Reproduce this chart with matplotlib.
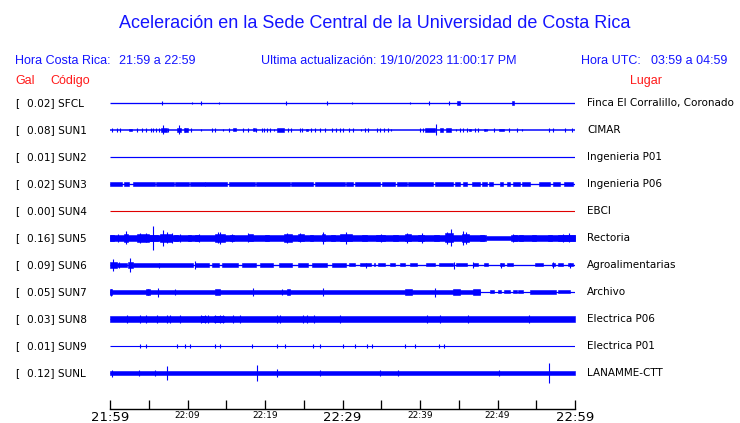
import matplotlib
matplotlib.use('Agg')
import matplotlib.pyplot as plt
from matplotlib.transforms import blended_transform_factory

# stations, top to bottom
codes = ['SFCL', 'SUN1', 'SUN2', 'SUN3', 'SUN4', 'SUN5', 'SUN6', 'SUN7', 'SUN8', 'SUN9', 'SUNL']
places = ['Finca El Corralillo, Coronado', 'CIMAR', 'Ingenieria P01', 'Ingenieria P06', 'EBCI',
          'Rectoria', 'Agroalimentarias', 'Archivo', 'Electrica P06', 'Electrica P01', 'LANAMME-CTT']
gal = [0.02, 0.08, 0.01, 0.02, 0.00, 0.16, 0.09, 0.05, 0.03, 0.01, 0.12]
trace_colors = ['#0000ff', '#0000ff', '#0000ff', '#0000ff', '#e00000', '#0000ff',
                '#0000ff', '#0000ff', '#0000ff', '#0000ff', '#0000ff']

# minutes after 21:59
t_start, t_end = 0, 60
tick_minutes = [0, 10, 20, 30, 40, 50, 60]
tick_labels = ['21:59', '22:09', '22:19', '22:29', '22:39', '22:49', '22:59']
minor_minutes = [5, 15, 25, 35, 45, 55]

# trace amplitude (display units, 27 per trace row)
# base half width, bursts (from, to, half width), spikes (minute, half height)
base = [0.65, 0.75, 0.6, 0.65, 0.55, 0.6, 0.65, 0.6, 0.6, 0.55, 0.6]

sfcl_bursts = [(44.75, 45.1, 1.6), (51.9, 52.15, 1.6)]
sfcl_spikes = [(6.75, 1.6), (10.6, 0.9), (11.8, 1.6), (14.1, 0.9), (22.7, 1.6), (28.0, 1.6),
               (31.2, 0.9), (38.7, 0.9), (41.2, 1.6), (43.7, 1.6)]

sun1_bursts = [(2.5, 2.9, 1.4), (6.6, 7.4, 2.4), (8.6, 9.1, 2.0), (9.6, 10.0, 1.6), (15.9, 16.2, 1.5),
               (18.4, 18.7, 1.5), (21.6, 22.5, 1.6), (25.3, 25.5, 1.4), (40.6, 41.9, 2.0),
               (42.6, 43.0, 1.8), (43.4, 44.0, 2.0), (46.3, 46.6, 1.4), (48.2, 48.5, 1.4),
               (50.2, 50.8, 1.4)]
sun1_spikes = [(0.3, 1.7), (0.86, 1.7), (1.25, 1.7), (3.5, 1.7), (4.1, 1.7), (4.7, 1.7), (5.3, 1.7),
               (5.6, 1.7), (5.9, 1.7), (6.3, 1.7), (6.9, 4.5), (7.5, 1.7), (8.9, 4.5), (9.7, 1.7),
               (10.5, 1.7), (11.7, 1.2), (13.2, 1.7), (13.5, 1.7), (14.6, 1.2), (15.4, 1.7),
               (17.2, 1.7), (17.8, 1.7), (18.9, 1.7), (19.6, 1.7), (19.9, 1.7), (20.3, 1.7),
               (20.7, 1.7), (21.2, 1.2), (23.0, 1.7), (23.4, 1.7), (24.5, 1.7), (24.8, 1.7),
               (25.9, 1.7), (26.4, 1.7), (27.1, 1.7), (27.7, 1.7), (28.7, 1.7), (29.2, 1.7),
               (29.7, 1.7), (30.1, 1.7), (30.9, 1.7), (31.4, 1.7), (32.4, 1.2), (32.9, 1.7),
               (33.3, 1.7), (34.4, 1.7), (34.8, 1.7), (35.4, 1.7), (35.9, 1.7), (36.3, 1.2),
               (40.0, 1.7), (40.4, 1.7), (42.1, 5.5), (44.7, 1.2), (45.1, 1.7), (45.5, 1.7),
               (46.0, 1.7), (47.1, 1.7), (47.5, 1.7), (48.6, 1.2), (49.5, 1.7), (51.5, 1.7),
               (52.5, 1.7), (53.1, 1.2), (56.6, 1.7), (57.2, 1.7), (58.7, 1.7), (59.6, 1.7),
               (59.95, 1.7)]

sun2_bursts = []
sun2_spikes = []

sun3_bursts = [(0.0, 1.5, 1.8), (1.8, 2.4, 1.8), (3.0, 5.8, 1.8), (5.9, 8.2, 1.8), (8.4, 10.2, 1.8),
               (10.3, 12.2, 1.8), (12.3, 15.1, 1.8), (15.3, 18.7, 1.8), (18.9, 23.2, 1.8),
               (23.4, 26.2, 1.8), (26.4, 30.3, 1.8), (30.4, 31.4, 1.8), (31.6, 34.8, 1.8),
               (35.1, 36.8, 1.8), (37.0, 38.3, 1.8), (38.5, 41.7, 1.8), (41.9, 44.3, 1.8),
               (44.5, 45.2, 1.8), (45.6, 46.0, 1.8), (46.7, 47.7, 1.8), (48.0, 48.6, 1.8),
               (48.9, 49.4, 1.8), (50.3, 50.7, 1.8), (51.2, 51.6, 1.8), (52.0, 52.9, 1.8),
               (53.2, 54.2, 1.8), (55.4, 56.8, 1.8), (57.2, 58.1, 1.8), (58.6, 59.8, 1.8)]
sun3_spikes = []

sun4_bursts = []
sun4_spikes = []

sun5_bursts = [(0.0, 48.5, 2.8), (48.5, 52.0, 1.7), (52.0, 60.0, 2.8),
               (0.0, 0.5, 3.2), (1.8, 2.3, 3.6), (3.5, 5.0, 3.6), (5.0, 6.2, 3.3), (6.5, 8.0, 3.9),
               (8.2, 8.8, 3.2), (10.0, 10.5, 3.2), (11.0, 11.5, 3.2), (13.6, 14.8, 4.3),
               (15.5, 16.0, 3.2), (17.8, 18.5, 3.5), (20.0, 20.5, 3.2), (22.5, 23.5, 3.7),
               (24.2, 25.0, 3.5), (25.8, 26.2, 3.2), (27.3, 27.7, 3.5), (28.5, 29.0, 3.2),
               (29.7, 31.2, 3.5), (32.5, 33.2, 3.3), (34.3, 35.5, 3.2), (36.5, 37.2, 3.2),
               (38.0, 38.8, 3.5), (39.8, 40.5, 3.2), (41.8, 42.4, 3.2), (43.2, 44.3, 4.5),
               (45.4, 46.3, 4.0), (47.7, 48.2, 3.2), (51.8, 52.5, 3.2), (52.8, 53.3, 3.2),
               (54.5, 55.0, 3.0), (56.5, 57.0, 3.0), (57.8, 60.0, 3.4)]
sun5_spikes = [(1.0, 3.8), (2.0, 6.5), (3.9, 5.0), (4.6, 4.5), (5.6, 12.0), (6.9, 8.0), (7.4, 5.5),
               (8.0, 5.0), (9.0, 4.0), (11.5, 4.0), (13.9, 5.5), (14.2, 6.0), (15.8, 4.0),
               (17.8, 4.5), (22.9, 5.0), (24.5, 4.5), (27.5, 6.0), (30.5, 6.0), (35.0, 4.0),
               (38.3, 5.0), (40.2, 5.0), (43.5, 6.0), (44.0, 8.5), (45.6, 7.0), (45.9, 6.0),
               (52.0, 4.0), (58.5, 4.0), (59.2, 4.5)]

sun6_bursts = [(0.0, 0.9, 3.0), (0.9, 2.2, 1.8), (2.3, 3.0, 3.0), (3.0, 10.7, 1.7), (11.0, 12.8, 1.6),
               (13.2, 14.0, 1.6), (14.4, 16.5, 1.6), (17.0, 18.8, 1.6), (19.3, 21.0, 1.6),
               (21.8, 23.5, 1.6), (24.2, 25.6, 1.6), (26.0, 28.0, 1.6), (28.6, 30.4, 1.6),
               (30.8, 31.6, 1.5), (32.2, 33.7, 1.5), (34.0, 34.2, 1.5), (34.6, 35.5, 1.5),
               (36.1, 36.8, 1.5), (37.4, 38.1, 1.5), (38.7, 39.6, 1.5), (40.8, 41.9, 1.5),
               (42.4, 44.3, 1.5), (44.7, 46.0, 1.5), (46.9, 47.5, 1.5), (48.2, 48.8, 1.5),
               (50.3, 50.8, 1.5), (51.2, 52.0, 1.5), (54.8, 55.9, 1.5), (57.0, 57.4, 1.5),
               (57.8, 58.5, 1.5), (59.1, 59.8, 1.5)]
sun6_spikes = [(0.4, 6.0), (1.2, 3.0), (2.6, 7.0), (6.3, 2.5), (11.0, 4.0), (33.0, 2.5), (44.4, 3.5),
               (46.9, 3.0), (50.5, 2.5), (57.1, 3.0), (59.3, 2.5)]

sun7_bursts = [(0.0, 47.7, 2.3), (0.0, 0.3, 3.0), (4.6, 5.2, 2.8), (13.5, 14.2, 2.8), (22.8, 23.2, 3.0),
               (38.0, 39.0, 2.6), (44.3, 45.2, 3.0), (46.9, 47.7, 2.6), (49.0, 49.5, 1.5),
               (50.0, 50.5, 1.5), (50.9, 51.6, 1.5), (52.0, 52.5, 1.5), (52.7, 53.3, 1.5),
               (54.2, 57.6, 2.0), (57.8, 59.3, 1.5)]
sun7_spikes = [(0.1, 3.5), (4.9, 3.0), (6.2, 4.5), (8.4, 3.0), (18.5, 4.0), (22.2, 3.0), (27.5, 4.0),
               (41.9, 4.5)]

sun8_bursts = [(0.0, 60.0, 2.7), (11.7, 12.4, 3.2), (13.4, 14.7, 3.0)]
sun8_spikes = [(2.2, 3.8), (3.9, 3.8), (4.7, 3.8), (6.0, 3.8), (7.3, 3.8), (7.7, 3.8), (9.0, 3.8),
               (11.8, 3.8), (12.3, 3.8), (12.7, 3.8), (13.5, 3.8), (14.2, 3.8), (14.6, 3.8),
               (15.9, 3.8), (16.8, 3.8), (21.5, 3.8), (21.9, 3.8), (24.9, 3.8), (25.4, 3.8),
               (26.3, 3.8), (29.7, 3.8), (40.9, 4.0), (42.6, 4.0), (46.2, 4.0), (54.0, 3.8)]

sun9_bursts = []
sun9_spikes = [(3.9, 1.6), (4.7, 1.6), (8.6, 1.6), (9.7, 1.6), (10.3, 1.6), (13.5, 1.6), (14.2, 1.6),
               (18.3, 1.6), (21.5, 1.6), (22.6, 1.6), (26.2, 1.6), (27.1, 1.6), (30.1, 1.6),
               (31.6, 1.6), (33.1, 1.6), (33.8, 1.6), (38.1, 2.0), (39.4, 2.0), (42.4, 1.6),
               (43.1, 1.6)]

sunl_bursts = [(0.0, 60.0, 2.4)]
sunl_spikes = [(0.2, 3.5), (3.7, 2.8), (5.8, 3.2), (7.3, 7.0), (19.0, 8.0), (21.6, 3.8), (27.1, 3.2),
               (34.8, 2.8), (37.2, 2.8), (50.2, 2.8), (56.6, 10.0)]

bursts = [sfcl_bursts, sun1_bursts, sun2_bursts, sun3_bursts, sun4_bursts, sun5_bursts,
          sun6_bursts, sun7_bursts, sun8_bursts, sun9_bursts, sunl_bursts]
spikes = [sfcl_spikes, sun1_spikes, sun2_spikes, sun3_spikes, sun4_spikes, sun5_spikes,
          sun6_spikes, sun7_spikes, sun8_spikes, sun9_spikes, sunl_spikes]

W, H = 740, 423
PT = 72 / 100  # points per pixel
row_gap = 27
blue = '#1414ff'
red = '#ff1a1a'

fig = plt.figure(figsize=(W / 100, H / 100), dpi=100)
fig.patch.set_facecolor('white')


def fx(px):
    return px / W


def fy(py):
    return 1 - py / H


ax = fig.add_axes([fx(110), 14 / H, 465 / W, 319 / H])
ax.set_xlim(t_start, t_end)
ax.set_ylim(306, -13)

for i, code in enumerate(codes):
    y = i * row_gap
    c = trace_colors[i]
    ax.plot([t_start, t_end], [y, y], color=c, lw=2 * base[i] * PT, solid_capstyle='butt')
    for a, b, h in bursts[i]:
        ax.fill_between([a, b], y - h, y + h, color=c, lw=0.4, antialiased=False)
    if spikes[i]:
        ts = [s[0] for s in spikes[i]]
        hs = [s[1] for s in spikes[i]]
        ax.vlines(ts, [y - h for h in hs], [y + h for h in hs], color=c, lw=1.1 * PT)

for s in ['top', 'left', 'right']:
    ax.spines[s].set_visible(False)
ax.spines['bottom'].set_linewidth(1.4 * PT)
ax.set_yticks([])
ax.set_xticks(tick_minutes)
ax.set_xticks(minor_minutes, minor=True)
ax.set_xticklabels(tick_labels)
ax.tick_params(axis='x', which='both', direction='in', length=9 * PT, width=1.3 * PT, pad=1.5)
for lab, m in zip(ax.get_xticklabels(), tick_minutes):
    lab.set_fontfamily('DejaVu Sans')
    lab.set_fontsize(9.5 if m % 30 == 0 else 6.5)

# station labels
tf = blended_transform_factory(fig.transFigure, ax.transData)
for i, code in enumerate(codes):
    y = i * row_gap
    ax.text(fx(15), y, '[', transform=tf, ha='left', va='center', fontsize=7.6, color='black')
    ax.text(fx(27), y, '%.2f] %s' % (gal[i], code), transform=tf, ha='left', va='center',
            fontsize=7.6, color='black')
    ax.text(fx(587), y, places[i], transform=tf, ha='left', va='center', fontsize=7.5, color='black')

# header
hf = 'Liberation Sans'
fig.text(fx(375), fy(23), 'Aceleración en la Sede Central de la Universidad de Costa Rica',
         ha='center', va='center', fontsize=13, color=blue, family=hf)
fig.text(fx(15), fy(61), 'Hora Costa Rica:', ha='left', va='center', fontsize=9, color=blue, family=hf)
fig.text(fx(119), fy(61), '21:59 a 22:59', ha='left', va='center', fontsize=9, color=blue, family=hf)
fig.text(fx(261), fy(61), 'Ultima actualización:', ha='left', va='center', fontsize=9, color=blue, family=hf)
fig.text(fx(380), fy(61), '19/10/2023 11:00:17 PM', ha='left', va='center', fontsize=9, color=blue, family=hf)
fig.text(fx(581), fy(61), 'Hora UTC:', ha='left', va='center', fontsize=9, color=blue, family=hf)
fig.text(fx(651), fy(61), '03:59 a 04:59', ha='left', va='center', fontsize=9, color=blue, family=hf)
fig.text(fx(15), fy(81), 'Gal', ha='left', va='center', fontsize=9, color=red, family=hf)
fig.text(fx(50), fy(81), 'Código', ha='left', va='center', fontsize=9, color=red, family=hf)
fig.text(fx(630), fy(81), 'Lugar', ha='left', va='center', fontsize=9, color=red, family=hf)

fig.savefig('out.png', dpi=100)
